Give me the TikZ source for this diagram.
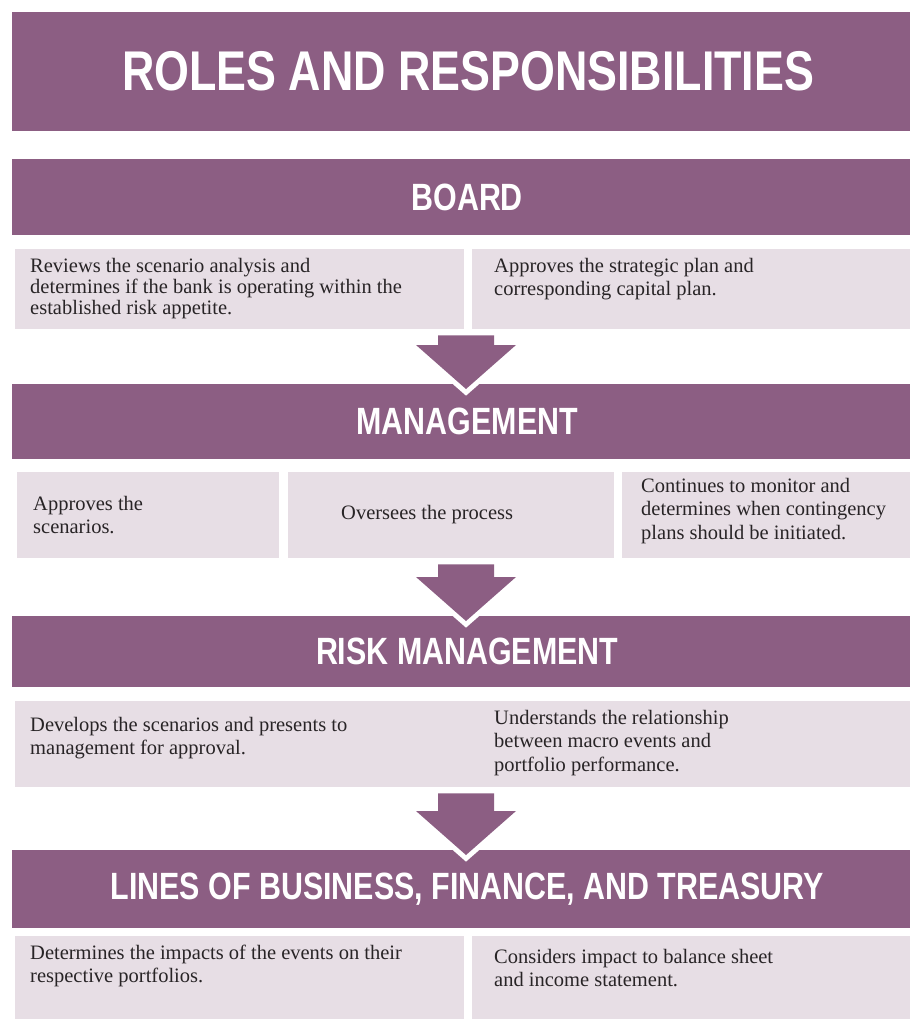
\documentclass[tikz,border=0pt]{standalone}
\usepackage{fontspec}
\usetikzlibrary{calc}
\setmainfont{Liberation Serif}
\newfontfamily\headfont[FakeStretch=0.8]{Liberation Sans}

\definecolor{plum}{RGB}{140,94,131}
\definecolor{lilac}{RGB}{231,222,229}
\definecolor{ink}{RGB}{40,36,38}

\tikzset{
	bar/.style={fill=plum, anchor=north west, inner sep=0pt, minimum width=898pt},
	head/.style={text=white, inner sep=0pt, font=\headfont\bfseries\fontsize{38}{40}\selectfont},
	cell/.style={fill=lilac, anchor=north west, inner sep=0pt},
	say/.style={text=ink, anchor=west, inner sep=0pt, align=left,
		font=\fontsize{20.5}{23.5}\selectfont},
	blockarrow/.style={fill=plum, preaction={draw=white, line width=10pt}}
}

% block arrow from a row of cells down into the next bar
\newcommand\stagearrow[2]{%
	\path (#1.south -| spine) ++(0,6) coordinate (a-top)
		(#2.north -| spine) ++(0,5) coordinate (a-tip);
	\path[blockarrow] let \p1=(a-top), \p2=(a-tip) in
		(\x1-28pt,\y1) -- (\x1+28pt,\y1) -- (\x1+28pt,\y2+44pt) -- (\x1+50pt,\y2+44pt)
		-- (\x2,\y2) -- (\x1-50pt,\y2+44pt) -- (\x1-28pt,\y2+44pt) -- cycle;
}

\begin{document}
\begin{tikzpicture}[x=1pt, y=-1pt]
	\useasboundingbox (0,0) rectangle (911,1019);
	\coordinate (spine) at (466,0);

	\node[bar, minimum height=119pt] (title) at (12,12) {};
	\node[head, font=\headfont\bfseries\fontsize{56}{60}\selectfont] (title-h)
		at ([xshift=7pt]title.center) {ROLES AND RESPONSIBILITIES};

	% board
	\node[bar, minimum height=76pt] (board) at (12,159) {};
	\node[head] (board-h) at ([xshift=6pt]board.center) {BOARD};
	\node[cell, minimum width=449pt, minimum height=80pt] (boardL) at (15,249) {};
	\node[cell, minimum width=438pt, minimum height=80pt] (boardR) at (472,249) {};
	\node[say, font=\fontsize{20.5}{21}\selectfont] (boardL-t) at (30,289)
		{Reviews the scenario analysis and\\determines if the bank is operating within the\\established risk appetite.};
	\node[say, font=\fontsize{20.5}{22.5}\selectfont] (boardR-t) at (494,279)
		{Approves the strategic plan and\\corresponding capital plan.};

	% management
	\node[bar, minimum height=75pt] (mgmt) at (12,384) {};
	\node[head] (mgmt-h) at ([xshift=6pt]mgmt.center) {MANAGEMENT};
	\node[cell, minimum width=262pt, minimum height=86pt] (mgmtA) at (17,472) {};
	\node[cell, minimum width=326pt, minimum height=86pt] (mgmtB) at (288,472) {};
	\node[cell, minimum width=288pt, minimum height=86pt] (mgmtC) at (622,472) {};
	\node[say] (mgmtA-t) at (33,515) {Approves the\\scenarios.};
	\node[say] (mgmtB-t) at (341,515) {Oversees the process};
	\node[say] (mgmtC-t) at (641,511)
		{Continues to monitor and\\determines when contingency\\plans should be initiated.};

	% risk management
	\node[bar, minimum height=71pt] (risk) at (12,616) {};
	\node[head] (risk-h) at ([xshift=6pt]risk.center) {RISK MANAGEMENT};
	\node[cell, minimum width=895pt, minimum height=86pt] (riskC) at (15,701) {};
	\node[say] (riskL-t) at (30,738) {Develops the scenarios and presents to\\management for approval.};
	\node[say] (riskR-t) at (494,743)
		{Understands the relationship\\between macro events and\\portfolio performance.};

	% lines of business
	\node[bar, minimum height=78pt] (lob) at (12,850) {};
	\node[head] (lob-h) at ([xshift=6pt]lob.center) {LINES OF BUSINESS, FINANCE, AND TREASURY};
	\node[cell, minimum width=449pt, minimum height=83pt] (lobL) at (15,936) {};
	\node[cell, minimum width=438pt, minimum height=83pt] (lobR) at (472,936) {};
	\node[say] (lobL-t) at (30,966) {Determines the impacts of the events on their\\respective portfolios.};
	\node[say] (lobR-t) at (494,968) {Considers impact to balance sheet\\and income statement.};

	\stagearrow{boardL}{mgmt}
	\stagearrow{mgmtB}{risk}
	\stagearrow{riskC}{lob}
\end{tikzpicture}
\end{document}
